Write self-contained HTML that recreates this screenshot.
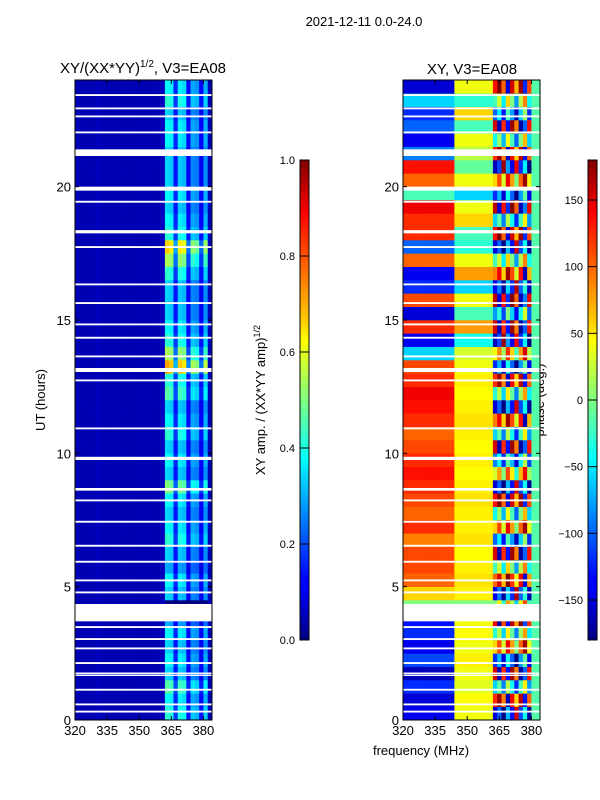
<!DOCTYPE html>
<html><head><meta charset="utf-8"><style>
html,body{margin:0;padding:0;background:#fff;}
svg{display:block;font-family:"Liberation Sans","DejaVu Sans",sans-serif;}
</style></head><body>
<svg id="fig" width="600" height="800" viewBox="0 0 600 800" xmlns="http://www.w3.org/2000/svg">
<text x="364" y="26" font-size="13" text-anchor="middle">2021-12-11 0.0-24.0</text>
<text x="143" y="73" font-size="15" text-anchor="middle">XY/(XX*YY)<tspan font-size="10" dy="-6">1/2</tspan><tspan dy="6">, V3=EA08</tspan></text>
<text x="472" y="74" font-size="15" text-anchor="middle">XY, V3=EA08</text>
<text transform="translate(45,400) rotate(-90)" font-size="13" text-anchor="middle">UT (hours)</text>
<text transform="translate(265,400) rotate(-90)" font-size="13" text-anchor="middle">XY amp. / (XX*YY amp)<tspan font-size="9" dy="-5">1/2</tspan></text>
<text transform="translate(544,400) rotate(-90)" font-size="13" text-anchor="middle">phase (deg.)</text>
<text x="421" y="755" font-size="13" text-anchor="middle">frequency (MHz)</text>
<defs>
<linearGradient id="jetg" x1="0" y1="1" x2="0" y2="0">
<stop offset="0" stop-color="#000080"/><stop offset="0.11" stop-color="#0000ff"/><stop offset="0.125" stop-color="#0000ff"/>
<stop offset="0.35" stop-color="#00e0ff"/><stop offset="0.375" stop-color="#00ffff"/><stop offset="0.5" stop-color="#80ff80"/>
<stop offset="0.625" stop-color="#ffff00"/><stop offset="0.66" stop-color="#ffd000"/><stop offset="0.89" stop-color="#ff0000"/><stop offset="1" stop-color="#800000"/>
</linearGradient>
</defs>
<g id="left"></g>
<g id="right"></g>
<g id="axes"></g>
</svg>
<script>
// ---- data ----
const freqStart = 320, freqEnd = 384;
// amplitude channel profile (2 MHz bins, 320..384)
const ampProfile = [0.05,0.05,0.05,0.05,0.05,0.06,0.05,0.05,0.05,0.05,0.05,0.05,0.05,0.05,0.05,0.05,0.05,0.05,0.05,0.05,0.06,0.42,0.40,0.18,0.40,0.38,0.15,0.32,0.30,0.14,0.33,0.06];
// row gains, half-hour rows 0h..24h
const ampGain = [1.0,0.9,1.1,0.8,0.9,0.8,0.9,0.7,0.0,0.8,0.9,0.7,0.8,1.0,0.9,0.8,0.9,1.2,0.8,0.9,0.8,1.0,0.9,0.8,1.1,1.0,1.7,1.3,1.0,0.9,0.8,0.8,0.8,1.0,1.3,1.6,1.0,0.9,0.8,0.9,0.8,0.8,0.8,0.9,0.9,0.8,1.0,0.9];
// phase (deg) per row for low (320-345), mid (345-362), high (362-380) bands; edge constant
const phaseLow  = [-140,-150,-120,-160,-110,-140,-120,-130,0,60,100,110,110,90,120,100,110,120,130,120,110,100,120,130,140,120,110,-60,-140,120,-150,110,-120,-140,100,-100,120,120,140,-20,100,130,-90,-140,-100,-120,-60,-150];
const phaseMid  = [40,45,35,40,50,40,45,40,0,50,55,50,45,55,50,50,55,50,45,50,45,50,55,50,45,50,40,30,-40,80,-20,40,-60,80,40,-30,-20,60,40,-60,40,-10,20,40,-20,60,-30,40];
const phaseHigh = [-150,120,-60,150,-120,60,-30,140,0,-140,100,-20,150,-100,60,-40,130,-150,30,-90,150,-60,90,-150,-30,120,-120,40,-160,150,-80,160,-140,90,-20,-150,130,-60,160,-120,60,-160,120,-40,150,-100,-20,130];
// per-channel phase offset within the high band (channels 362..380)
const highOffset = [0,50,-30,80,20,-60,40,110,-20];
const phaseEdge = -15;
// flagged (blank) intervals in hours [start, end]
const flagStart = [0.28,0.55,1.1,1.65,1.72,2.1,2.65,3.0,3.45,3.7,4.75,5.2,5.9,6.5,7.4,8.2,8.6,9.75,10.9,12.7,13.05,13.6,14.3,14.8,15.6,16.3,17.7,18.25,19.4,19.85,21.15,22.0,22.6,22.9,23.4];
const flagEnd   = [0.35,0.62,1.17,1.7,1.78,2.17,2.72,3.07,3.52,4.35,4.82,5.27,5.97,6.57,7.47,8.27,8.7,9.87,10.97,12.77,13.2,13.67,14.37,14.87,15.67,16.37,17.77,18.37,19.47,20.0,21.4,22.07,22.67,22.97,23.47];
const xTicks = [320,335,350,365,380];
const yTicks = [0,5,10,15,20];
const ampTicks = [0.0,0.2,0.4,0.6,0.8,1.0];
const phaseTicks = [-150,-100,-50,0,50,100,150];

// ---- helpers ----
const NS="http://www.w3.org/2000/svg";
function mk(tag,attrs,parent){const e=document.createElementNS(NS,tag);for(const k in attrs)e.setAttribute(k,attrs[k]);parent.appendChild(e);return e;}
function clip(v){return Math.max(0,Math.min(1,v));}
function jet(v){v=clip(v);const r=clip(1.5-Math.abs(4*v-3)),g=clip(1.5-Math.abs(4*v-2)),b=clip(1.5-Math.abs(4*v-1));return `rgb(${Math.round(r*255)},${Math.round(g*255)},${Math.round(b*255)})`;}
function wrap(p){while(p>180)p-=360;while(p<-180)p+=360;return p;}
const panels={left:{x0:75,x1:212},right:{x0:403,x1:540}};
const yTop=80,yBot=720,hMax=24;
function yS(h){return yBot-(h/hMax)*(yBot-yTop);}
function xS(p,f){return p.x0+(f-freqStart)/(freqEnd-freqStart)*(p.x1-p.x0);}
const rowH=24/ampGain.length;
const binW=(freqEnd-freqStart)/ampProfile.length;

// amplitude heatmap
const gL=document.getElementById('left');
for(let r=0;r<ampGain.length;r++){
  for(let c=0;c<ampProfile.length;c++){
    const f0=freqStart+c*binW, v=ampProfile[c]*(ampProfile[c]>0.1?ampGain[r]:1);
    const el=mk('rect',{x:xS(panels.left,f0),y:yS((r+1)*rowH),width:xS(panels.left,f0+binW)-xS(panels.left,f0)+0.3,height:yS(r*rowH)-yS((r+1)*rowH)+0.3,fill:jet(v)},gL);
    
    
  }
}
// phase heatmap
const gR=document.getElementById('right');
for(let r=0;r<phaseLow.length;r++){
  for(let c=0;c<ampProfile.length;c++){
    const f0=freqStart+c*binW, fc=f0+binW/2;
    let ph;
    if(fc<345)ph=phaseLow[r];
    else if(fc<362)ph=phaseMid[r];
    else if(fc<380)ph=wrap(phaseHigh[r]+highOffset[(c-21)%highOffset.length]);
    else ph=phaseEdge;
    const el=mk('rect',{x:xS(panels.right,f0),y:yS((r+1)*rowH),width:xS(panels.right,f0+binW)-xS(panels.right,f0)+0.3,height:yS(r*rowH)-yS((r+1)*rowH)+0.3,fill:jet((ph+180)/360)},gR);
    
    
  }
}
// flags + axes
const gA=document.getElementById('axes');
for(const key of ['left','right']){
  const p=panels[key];
  for(let i=0;i<flagStart.length;i++){
    const el=mk('rect',{x:p.x0,y:yS(flagEnd[i]),width:p.x1-p.x0,height:yS(flagStart[i])-yS(flagEnd[i]),fill:'#fff'},gA);
    
    
  }
  const fr=mk('rect',{x:p.x0,y:yTop,width:p.x1-p.x0,height:yBot-yTop,fill:'none',stroke:'#000','stroke-width':1},gA);
  
  
  for(const t of xTicks){
    const x=xS(p,t);
    mk('line',{x1:x,y1:yBot,x2:x,y2:yBot-4,stroke:'#000'},gA);
    mk('line',{x1:x,y1:yTop,x2:x,y2:yTop+4,stroke:'#000'},gA);
    const tx=mk('text',{x:x,y:yBot+15,'font-size':13,'text-anchor':'middle'},gA);
    tx.textContent=t;
    
    
  }
  for(const t of yTicks){
    const y=yS(t);
    mk('line',{x1:p.x0,y1:y,x2:p.x0+4,y2:y,stroke:'#000'},gA);
    mk('line',{x1:p.x1,y1:y,x2:p.x1-4,y2:y,stroke:'#000'},gA);
    const tx=mk('text',{x:p.x0-4,y:y+5,'font-size':13,'text-anchor':'end'},gA);
    tx.textContent=t;
    
    
  }
}
// colorbars
function colorbar(x,name,ticks,lo,hi,fmt){
  const cb=mk('rect',{x:x,y:160,width:9,height:480,fill:'url(#jetg)',stroke:'#000','stroke-width':1},gA);
  
  
  for(const t of ticks){
    const y=640-(t-lo)/(hi-lo)*480;
    mk('line',{x1:x,y1:y,x2:x+9,y2:y,stroke:'#000','stroke-width':1},gA);
    const tx=mk('text',{x:x-5,y:y+4,'font-size':11,'text-anchor':'end'},gA);
    tx.textContent=fmt(t);
    
    
  }
}
colorbar(300,'amp-colorbar',ampTicks,0,1,t=>t.toFixed(1));
colorbar(588,'phase-colorbar',phaseTicks,-180,180,t=>t<0?'\u2212'+(-t):String(t));
</script>
</body></html>
